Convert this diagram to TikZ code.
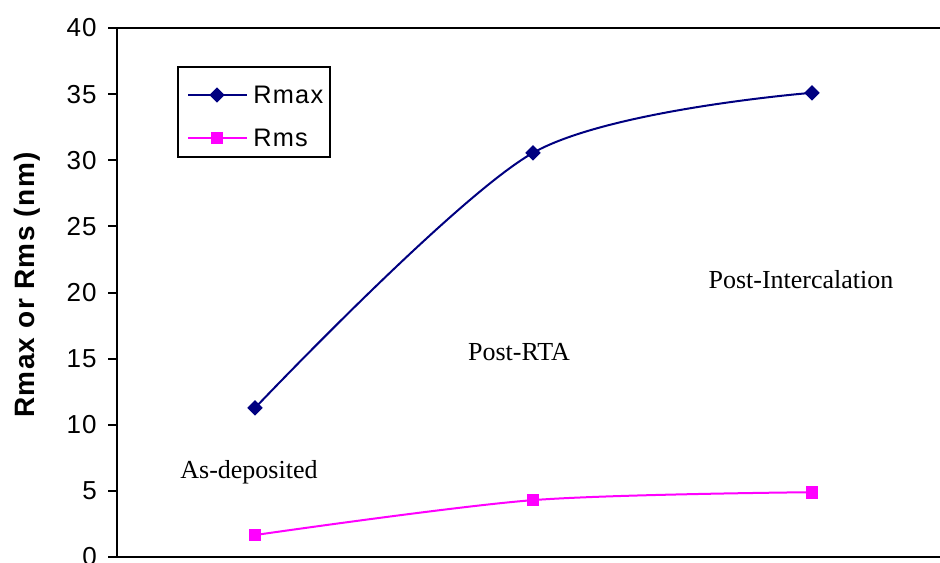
\documentclass[tikz,border=0pt]{standalone}
\usepackage{fontspec}
\setmainfont{Liberation Serif}
\setsansfont{Liberation Sans}[LetterSpace=5]
\usetikzlibrary{positioning}
\definecolor{rmaxblue}{RGB}{0,0,128}
\definecolor{rmspink}{RGB}{255,0,255}
\tikzset{
  axis/.style={line width=1.5pt, black}, % frame of the plot area
  ticklabel/.style={anchor=east, inner sep=0pt, font=\sffamily\fontsize{19.5}{22}\selectfont},
  ylabel/.style={rotate=90, inner sep=0pt, font=\sffamily\bfseries\fontsize{21}{24}\selectfont},
  stage/.style={inner sep=0pt, font=\rmfamily\fontsize{19.5}{22}\selectfont}, % process step labels
  rmaxline/.style={line width=1.5pt, rmaxblue},
  rmsline/.style={line width=1.5pt, rmspink},
  rmaxmark/.style={fill=rmaxblue, rotate=45, minimum size=8.2pt, inner sep=0pt},
  rmsmark/.style={fill=rmspink, minimum size=9.5pt, inner sep=0pt},
  legendbox/.style={draw, line width=1.2pt, minimum width=114pt, minimum height=67.5pt, inner sep=0pt},
  legtext/.style={anchor=west, inner sep=0pt, font=\sffamily\fontsize{19}{22}\selectfont},
}

\begin{document}
\begin{tikzpicture}[x=0.75pt, y=0.75pt]
  \useasboundingbox (0,0) rectangle (940,562);

  % frame and y ticks
  \draw[axis] (940,534) -- (117,534) -- (117,5) -- (940,5);
  \foreach \v [count=\i from 0] in {0,5,...,40} {
    \draw[axis] (108,{5+\v*13.225}) -- (117,{5+\v*13.225});
    \node[ticklabel] (tick\i) at (97,{5+\v*13.225}) {\v};
  }
  \node[ylabel] (ylab) at (27,277) {Rmax or Rms (nm)};

  % data, in values of the y axis
  \begin{scope}[shift={(0,5)}, y=9.919pt]
    \coordinate (rmaxA) at (255,11.27);
    \coordinate (rmaxB) at (533,30.56);
    \coordinate (rmaxC) at (812,35.1);
    \coordinate (rmsA) at (255,1.66);
    \coordinate (rmsB) at (533,4.3);
    \coordinate (rmsC) at (812,4.9);
  \end{scope}
  \draw[rmaxline] plot[smooth, tension=0.5] coordinates {(rmaxA) (rmaxB) (rmaxC)};
  \draw[rmsline] plot[smooth, tension=0.5] coordinates {(rmsA) (rmsB) (rmsC)};
  \foreach \p in {A,B,C} {
    \node[rmaxmark] (rmaxmark\p) at (rmax\p) {};
    \node[rmsmark] (rmsmark\p) at (rms\p) {};
  }

  % stage labels
  \node[stage] (asdep) at (249,90) {As-deposited};
  \node[stage] (postrta) at (519,210) {Post-RTA};
  \node[stage] (postint) at (801,282) {Post-Intercalation};

  % legend
  \node[legendbox] (legend) at (254,450) {};
  \coordinate (legmaxL) at (188,467);
  \coordinate (legmaxR) at (247,467);
  \coordinate (legmsL) at (188,424);
  \coordinate (legmsR) at (247,424);
  \draw[rmaxline] (legmaxL) -- (legmaxR);
  \draw[rmsline] (legmsL) -- (legmsR);
  \node[rmaxmark] (legmaxmark) at (217,467) {};
  \node[rmsmark] (legmsmark) at (217,424) {};
  \node[legtext] (legmaxtext) at (253,467) {Rmax};
  \node[legtext] (legmstext) at (253,424) {Rms};
\end{tikzpicture}
\end{document}
